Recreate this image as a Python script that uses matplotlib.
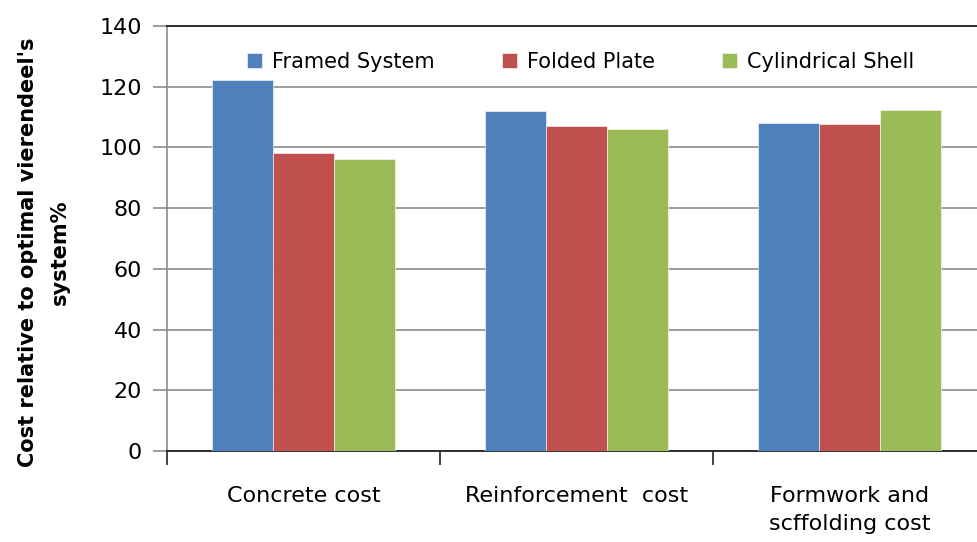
import matplotlib.pyplot as plt
import numpy as np

categories = ["Concrete cost", "Reinforcement  cost", "Formwork and\nscffolding cost"]
series_names = ["Framed System", "Folded Plate", "Cylindrical Shell"]
framed = [122.3, 112.0, 108.2]
folded = [98.1, 107.1, 107.6]
cylindrical = [96.2, 106.2, 112.2]
colors = ["#4F81BD", "#C0504D", "#9BBB59"]
yticks = [0, 20, 40, 60, 80, 100, 120, 140]

fig = plt.figure(figsize=(9.77, 5.42), dpi=100)
# right edge runs past the figure, like the cropped original
ax = fig.add_axes([0.171, 0.168, 0.838, 0.784])

x = np.arange(len(categories))
width = 0.224
for i, (vals, name, c) in enumerate(zip([framed, folded, cylindrical], series_names, colors)):
    ax.bar(x + (i - 1) * width, vals, width, color=c, label=name,
           edgecolor="white", linewidth=0.4, zorder=3)

ax.set_xlim(-0.5, 2.5)
ax.set_ylim(0, 140)
ax.set_yticks(yticks)
ax.yaxis.grid(True, color="#8c8c8c", linewidth=1.2, zorder=0)

# boundaries as major ticks, labels on minor ticks
ax.set_xticks(np.arange(-0.5, 3.0, 1.0))
ax.set_xticklabels([])
ax.set_xticks(x, minor=True)
ax.set_xticklabels(categories, minor=True, fontsize=16, va="top", linespacing=1.55)
ax.tick_params(axis="x", which="major", length=10, width=1.2, direction="out", color="#222222")
ax.tick_params(axis="x", which="minor", length=0, pad=25)
ax.tick_params(axis="y", length=10, width=1.2, color="#8c8c8c", labelsize=16, pad=8)

ax.spines["right"].set_visible(False)
ax.spines["top"].set_color("#222222")
ax.spines["top"].set_linewidth(1.3)
ax.spines["left"].set_color("#8c8c8c")
ax.spines["left"].set_linewidth(1.2)
ax.spines["bottom"].set_color("#222222")
ax.spines["bottom"].set_linewidth(1.3)

fig.text(0.045, 1 - 252 / 542, "Cost relative to optimal vierendeel's\nsystem%",
         rotation=90, ha="center", va="center", multialignment="center",
         fontsize=15, fontweight="bold", linespacing=1.75)

ax.legend(loc="upper center", bbox_to_anchor=(0.505, 0.983), ncol=3, frameon=False,
          fontsize=15, handlelength=0.72, handleheight=0.72, columnspacing=3.2,
          handletextpad=0.5)

fig.savefig("out.png", dpi=100)
